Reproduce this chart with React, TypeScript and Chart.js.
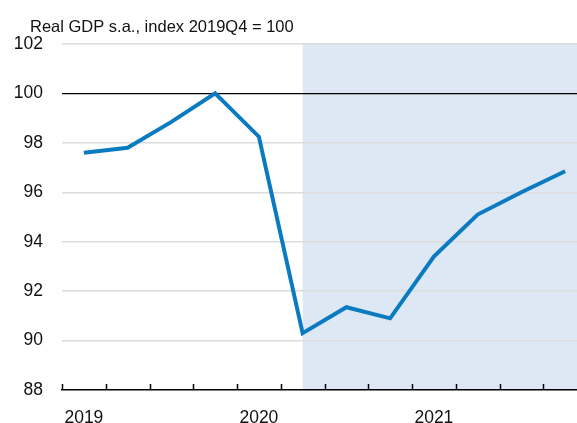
import React, { useEffect, useRef } from 'react';
import { Chart, registerables } from 'chart.js';

Chart.register(...registerables);

// ---- data ----
const quarters = [
  '2019Q1', '2019Q2', '2019Q3', '2019Q4',
  '2020Q1', '2020Q2', '2020Q3', '2020Q4',
  '2021Q1', '2021Q2', '2021Q3', '2021Q4',
];
const yearLabels = ['2019', '', '', '', '2020', '', '', '', '2021', '', '', ''];
const gdpIndex = [97.6, 97.8, 98.85, 100.0, 98.25, 90.3, 91.35, 90.9, 93.4, 95.1, 96.0, 96.85];
const yMin = 88;
const yMax = 102;
const yStep = 2;
const referenceLevel = 100;
const shadeStartIndex = 5; // projection period starts here
const titleText = 'Real GDP s.a., index 2019Q4 = 100';

const FONT = '"Liberation Sans", Arial, sans-serif';

const decorPlugin = {
  id: 'decor',
  beforeDraw(chart: any) {
    const { ctx, chartArea, scales } = chart;
    const x = scales.x;
    ctx.save();
    // shaded projection area
    const x0 = x.getPixelForValue(shadeStartIndex);
    ctx.fillStyle = '#DEE8F4';
    ctx.fillRect(x0, chartArea.top, chartArea.right - x0, chartArea.bottom - chartArea.top);
    // axis title
    ctx.fillStyle = '#111111';
    ctx.font = `16.5px ${FONT}`;
    ctx.textAlign = 'left';
    ctx.textBaseline = 'alphabetic';
    ctx.fillText(titleText, 30, 32);
    ctx.restore();
  },
  afterDatasetsDraw(chart: any) {
    const { ctx, chartArea, scales } = chart;
    const x = scales.x;
    const half = (x.getPixelForValue(1) - x.getPixelForValue(0)) / 2;
    ctx.save();
    ctx.strokeStyle = '#000000';
    ctx.lineWidth = 1.5;
    ctx.beginPath();
    for (let i = 0; i <= quarters.length; i++) {
      const px = Math.round(x.getPixelForValue(i) - half) + 0.5;
      ctx.moveTo(px, chartArea.bottom);
      ctx.lineTo(px, chartArea.bottom - 6);
    }
    ctx.stroke();
    ctx.restore();
  },
};

export default function App() {
  const canvasRef = useRef<HTMLCanvasElement | null>(null);

  useEffect(() => {
    if (!canvasRef.current) return;
    const chart = new Chart(canvasRef.current, {
      type: 'line',
      data: {
        labels: yearLabels,
        datasets: [
          {
            label: 'Real GDP',
            data: gdpIndex,
            borderColor: '#0B7BC1',
            borderWidth: 4,
            pointRadius: 0,
            tension: 0,
            fill: false,
            borderJoinStyle: 'miter',
          },
        ],
      },
      options: {
        responsive: false,
        animation: false,
        layout: { padding: { top: 44, right: 13, bottom: 0, left: 0 } },
        plugins: {
          legend: { display: false },
          tooltip: { enabled: false },
        },
        scales: {
          x: {
            type: 'category',
            offset: true,
            grid: { display: true, drawOnChartArea: false, drawTicks: false, offset: true },
            border: { display: true, color: '#000000', width: 1.5 },
            ticks: {
              autoSkip: false,
              maxRotation: 0,
              minRotation: 0,
              padding: 18,
              color: '#111111',
              font: { family: FONT, size: 17.5 },
            },
            afterFit: (scale: any) => {
              scale.height = 33;
            },
          },
          y: {
            min: yMin,
            max: yMax,
            grid: {
              drawTicks: false,
              color: (c: any) =>
                c.tick && c.tick.value === referenceLevel
                  ? '#000000'
                  : c.tick && c.tick.value === yMin
                  ? 'rgba(0,0,0,0)'
                  : '#DCDCDC',
              lineWidth: (c: any) => (c.tick && c.tick.value === referenceLevel ? 1.2 : 1.5),
            },
            border: { display: false },
            ticks: {
              stepSize: yStep,
              padding: 19,
              color: '#111111',
              font: { family: FONT, size: 17.5 },
            },
            afterFit: (scale: any) => {
              scale.width = 62;
            },
          },
        },
      },
      plugins: [decorPlugin],
    });
    return () => chart.destroy();
  }, []);

  return (
    <div
      style={{
        position: 'fixed',
        left: 0,
        top: 0,
        width: 577,
        height: 423,
        overflow: 'hidden',
        background: '#ffffff',
      }}
    >
      <canvas ref={canvasRef} width={600} height={423} style={{ display: 'block' }} />
    </div>
  );
}
